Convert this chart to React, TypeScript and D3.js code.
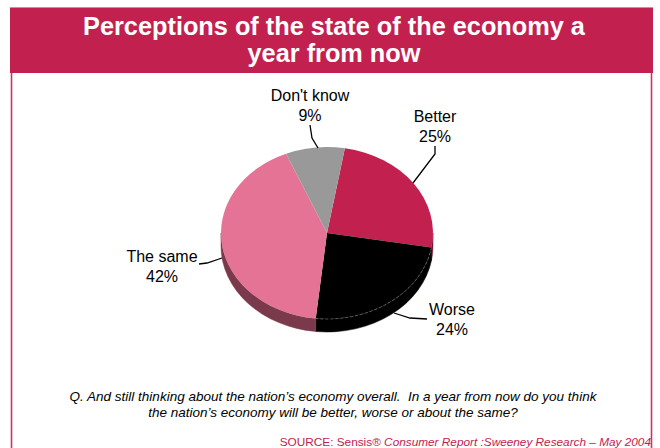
import React from "react";
import * as d3 from "d3";

const categories = ["Better", "Worse", "The same", "Don't know"];
const values = [25, 24, 42, 9];
const topColors = ["#C2214F", "#000000", "#E57396", "#999999"];
const sideColors = ["#7A1433", "#000000", "#7A3A4B", "#555555"];
const titleLines = ["Perceptions of the state of the economy a", "year from now"];
const questionLines = [
  "Q. And still thinking about the nation\u2019s economy overall.  In a year from now do you think",
  "the nation\u2019s economy will be better, worse or about the same?",
];

// label layout (center x, first baseline y) and leader polylines
const labelPos: [number, number][] = [
  [435, 122],
  [452, 315],
  [162, 262],
  [310, 101],
];
const leaders: [number, number][][] = [
  [[435, 146], [435, 154], [413, 183]],
  [[427, 319], [410, 318], [394, 313]],
  [[199, 264], [207, 263], [222, 258]],
  [[310, 125], [312, 138], [318, 148]],
];

const W = 660;
const H = 448;
const cx = 327;
const cy = 233;
const rx = 106;
const ry = 86;
const depth = 13;
const startDeg = 9.7;

function pt(a: number, dy = 0): [number, number] {
  return [cx + rx * Math.sin(a), cy - ry * Math.cos(a) + dy];
}

export default function App() {
  const start = (startDeg * Math.PI) / 180;
  const pie = d3
    .pie<number>()
    .sort(null)
    .startAngle(start)
    .endAngle(start + 2 * Math.PI)
    .value((d) => d);
  const arcs = pie(values);
  const line = d3.line();

  const topPath = (a0: number, a1: number) => {
    const p0 = pt(a0);
    const p1 = pt(a1);
    const large = a1 - a0 > Math.PI ? 1 : 0;
    return `M${cx},${cy}L${p0[0]},${p0[1]}A${rx},${ry} 0 ${large} 1 ${p1[0]},${p1[1]}Z`;
  };

  // visible outer wall: angles in [PI/2, 3PI/2] (mod 2PI)
  const sidePaths: { d: string; i: number }[] = [];
  arcs.forEach((a, i) => {
    for (const k of [0, 1]) {
      const lo = Math.PI / 2 + k * 2 * Math.PI;
      const hi = (3 * Math.PI) / 2 + k * 2 * Math.PI;
      const s = Math.max(a.startAngle, lo);
      const e = Math.min(a.endAngle, hi);
      if (e > s) {
        const p0 = pt(s);
        const p1 = pt(e);
        const q1 = pt(e, depth);
        const q0 = pt(s, depth);
        sidePaths.push({
          i,
          d: `M${p0[0]},${p0[1]}A${rx},${ry} 0 0 1 ${p1[0]},${p1[1]}L${q1[0]},${q1[1]}A${rx},${ry} 0 0 0 ${q0[0]},${q0[1]}Z`,
        });
      }
    }
  });

  const worse = arcs[1];
  const we0 = pt(Math.max(worse.startAngle, Math.PI / 2));
  const we1 = pt(Math.min(worse.endAngle, (3 * Math.PI) / 2));

  return (
    <svg width={W} height={H} style={{ position: "absolute", left: 0, top: 0, background: "#fff" }}
      fontFamily="'Liberation Sans', Arial, sans-serif">
      <rect x={0} y={0} width={W} height={H} fill="#fff" />
      {/* frame */}
      <rect x={10} y={7} width={643} height={66} fill="#C2214F" />
      <line x1={10} x2={653} y1={7.5} y2={7.5} stroke="#D9889F" strokeWidth={1} />
      {titleLines.map((t, i) => (
        <text key={i} x={334} y={35 + i * 27} textAnchor="middle" fill="#fff" fontWeight="bold" fontSize={25.3}>
          {t}
        </text>
      ))}
      {/* pie sides */}
      {sidePaths.map((s, k) => (
        <path key={k} d={s.d} fill={sideColors[s.i]} stroke={sideColors[s.i]} strokeWidth={0.5} />
      ))}
      {/* pie tops */}
      {arcs.map((a, i) => (
        <path key={i} d={topPath(a.startAngle, a.endAngle)} fill={topColors[i]} />
      ))}
      <path d={`M${we0[0]},${we0[1]}A${rx},${ry} 0 0 1 ${we1[0]},${we1[1]}`} fill="none" stroke="#777"
        strokeWidth={0.7} strokeDasharray="3,2" />
      {/* leaders */}
      {leaders.map((l, i) => (
        <path key={i} d={line(l) || ""} fill="none" stroke="#000" strokeWidth={1.3} />
      ))}
      {/* labels */}
      {categories.map((c, i) => (
        <text key={i} x={labelPos[i][0]} y={labelPos[i][1]} textAnchor="middle" fontSize={16} fill="#000">
          <tspan x={labelPos[i][0]}>{c}</tspan>
          <tspan x={labelPos[i][0]} dy={19.5}>{values[i]}%</tspan>
        </text>
      ))}
      {questionLines.map((q, i) => (
        <text key={i} x={333} y={401 + i * 15.5} textAnchor="middle" fontSize={13.5} fontStyle="italic" fill="#000"
          style={{ whiteSpace: "pre" }}>
          {q}
        </text>
      ))}
      <text x={651} y={446} textAnchor="end" fontSize={11.8} fill="#C2214F">
        SOURCE: Sensis® <tspan fontStyle="italic">Consumer Report :Sweeney Research – May 2004</tspan>
      </text>
      <line x1={11.5} x2={11.5} y1={73} y2={H} stroke="#CC3366" strokeWidth={1.6} />
      <line x1={651.5} x2={651.5} y1={73} y2={H} stroke="#CC3366" strokeWidth={1.6} />
    </svg>
  );
}
